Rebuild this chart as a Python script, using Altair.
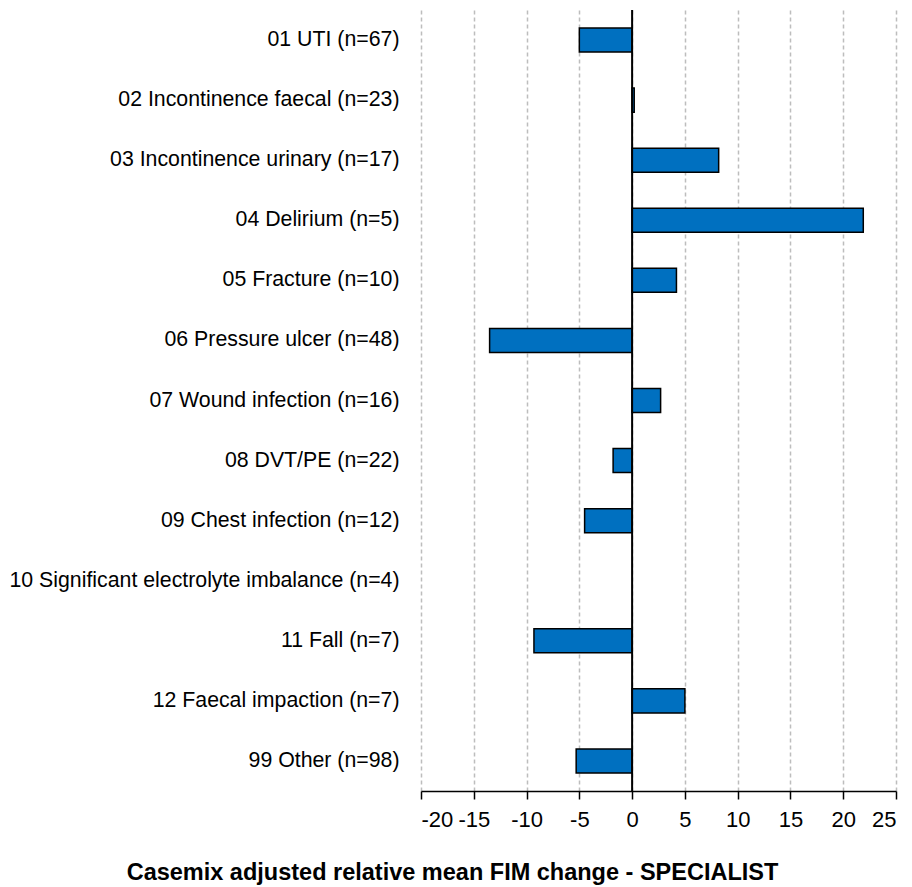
import altair as alt
import pandas as pd

categories = [
    "01 UTI (n=67)",
    "02 Incontinence faecal (n=23)",
    "03 Incontinence urinary (n=17)",
    "04 Delirium (n=5)",
    "05 Fracture (n=10)",
    "06 Pressure ulcer (n=48)",
    "07 Wound infection (n=16)",
    "08 DVT/PE (n=22)",
    "09 Chest infection (n=12)",
    "10 Significant electrolyte imbalance (n=4)",
    "11 Fall (n=7)",
    "12 Faecal impaction (n=7)",
    "99 Other (n=98)",
]
values = [-5.0, 0.2, 8.2, 21.9, 4.2, -13.5, 2.7, -1.8, -4.5, None, -9.3, 5.0, -5.3]
x_ticks = [-20, -15, -10, -5, 0, 5, 10, 15, 20, 25]

df = pd.DataFrame({"cat": categories, "val": values})
df = df.dropna()

FONT = "Liberation Sans, Arial, sans-serif"

bars = alt.Chart(df).mark_bar(
    color="#0070C0", stroke="#000000", strokeWidth=1.5
).encode(
    y=alt.Y(
        "cat:N",
        sort=categories,
        scale=alt.Scale(domain=categories, paddingInner=0.6, paddingOuter=0.3),
        axis=alt.Axis(
            title=None, domain=False, ticks=False, grid=False,
            labelFont=FONT, labelFontSize=21.3, labelColor="#000000",
            labelPadding=22, labelLimit=500,
        ),
    ),
    x=alt.X(
        "val:Q",
        scale=alt.Scale(domain=[-20, 25], nice=False),
        axis=alt.Axis(
            values=x_ticks,
            labelExpr="'' + datum.value",
            labelOverlap=False,
            title="Casemix adjusted relative mean FIM change - SPECIALIST",
            titleFont=FONT, titleFontSize=23.5, titleFontWeight="bold",
            titleColor="#000000", titleX=31, titleY=88, titleAlign="center",
            titleBaseline="alphabetic",
            labelFont=FONT, labelFontSize=22, labelColor="#000000",
            labelPadding=10,
            domainColor="#000000", domainWidth=1.5,
            tickColor="#000000", tickSize=8, tickWidth=1.5,
            grid=True, gridColor="#bdbdbd", gridDash=[4, 3], gridWidth=1.5,
        ),
    ),
)

zero = alt.Chart(pd.DataFrame({"z": [0]})).mark_rule(
    color="#000000", strokeWidth=2
).encode(x="z:Q")

chart = alt.layer(bars, zero).properties(
    width=475,
    height=781,
    padding={"left": 413, "top": 2, "right": 8, "bottom": 95},
    autosize=alt.AutoSizeParams(type="none"),
).configure_view(stroke=None)

chart.save("out.html", embed_options={"renderer": "svg", "actions": False})
